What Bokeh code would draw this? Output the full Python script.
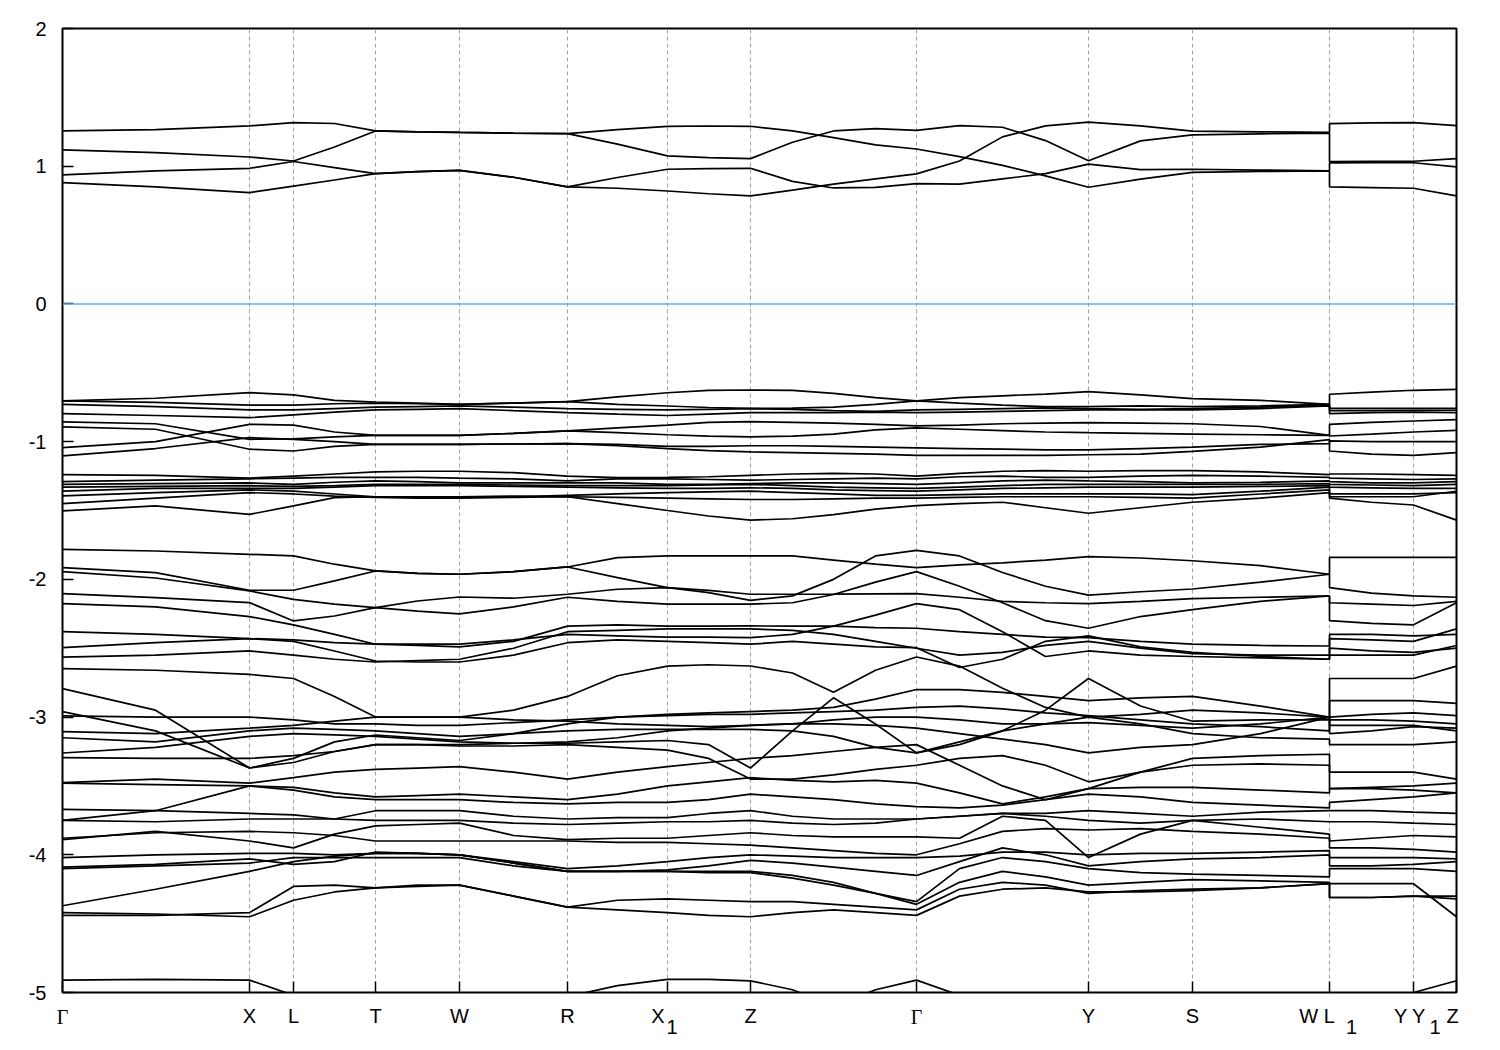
from bokeh.plotting import figure
from bokeh.models import FixedTicker, Span, Range1d, LinearAxis
from bokeh.embed import file_html
from bokeh.resources import INLINE

# high-symmetry points along the k-path (tick marks)
tick_pos = [0.0, 1.87, 2.31, 3.13, 3.97, 5.05, 6.05, 6.88, 8.54, 10.26, 11.30, 12.67, 13.51, 13.94]
tick_text = ["", "X", "L", "T", "W", "R", "", "Z", "", "Y", "S", "", "", ""]
# labels drawn apart from the tick marks
gamma_pos = [0.0, 8.54]
gamma_text = ["Γ", "Γ"]
shifted_pos = [5.955, 12.545, 13.475, 13.90]
shifted_text = ["X", "W L", "Y Y", "Z"]
sub_pos = [6.095, 12.89, 13.725]
sub_text = ["1", "1", "1"]
y_ticks = [-5, -4, -3, -2, -1, 0, 1, 2]

# k sampling of the bands (two entries at the path jumps W|L1 and Y|Y1)
k = [0.0, 0.93, 1.87, 2.31, 2.72, 3.13, 3.55, 3.97, 4.51, 5.05, 5.55, 6.05, 6.46, 6.88, 7.30,
     7.71, 8.13, 8.54, 8.97, 9.40, 9.83, 10.26, 10.78, 11.30, 11.98, 12.67, 12.67, 13.09, 13.51, 13.51, 13.94]

# conduction bands (eV)
cA = [1.256,1.265,1.293,1.317,1.31,1.256,1.25,1.245,1.24,1.237,1.265,1.29,1.292,1.29,1.256,1.208,1.155,1.125,1.07,1.006,0.93,0.847,0.906,0.955,0.962,0.966,0.85,0.845,0.84,0.84,0.784]
cB = [0.881,0.85,0.808,0.856,0.90,0.946,0.96,0.97,0.92,0.85,0.84,0.82,0.80,0.784,0.826,0.87,0.908,0.944,1.038,1.213,1.293,1.32,1.293,1.255,1.25,1.245,1.309,1.315,1.317,1.317,1.295]
cC = [1.118,1.099,1.067,1.038,1.14,1.256,1.25,1.245,1.24,1.237,1.16,1.075,1.062,1.055,1.174,1.256,1.273,1.26,1.295,1.283,1.186,1.04,1.184,1.227,1.235,1.24,1.033,1.035,1.036,1.036,1.055]
cD = [0.937,0.966,0.985,1.034,0.99,0.946,0.96,0.97,0.92,0.85,0.918,0.978,0.982,0.985,0.89,0.842,0.847,0.874,0.87,0.908,0.946,1.015,0.975,0.978,0.972,0.966,1.024,1.025,1.025,1.025,0.995]

# upper valence group
t1 = [-0.704,-0.685,-0.644,-0.661,-0.70,-0.712,-0.72,-0.729,-0.72,-0.709,-0.675,-0.645,-0.628,-0.625,-0.628,-0.65,-0.68,-0.704,-0.68,-0.667,-0.655,-0.637,-0.66,-0.688,-0.70,-0.729,-0.656,-0.64,-0.627,-0.627,-0.62]
t2 = [-0.704,-0.715,-0.735,-0.735,-0.725,-0.72,-0.725,-0.729,-0.72,-0.709,-0.73,-0.741,-0.752,-0.759,-0.757,-0.75,-0.73,-0.704,-0.72,-0.735,-0.745,-0.745,-0.74,-0.745,-0.74,-0.729,-0.758,-0.758,-0.758,-0.758,-0.758]
t3 = [-0.73,-0.745,-0.77,-0.77,-0.76,-0.75,-0.745,-0.74,-0.75,-0.76,-0.765,-0.77,-0.765,-0.76,-0.765,-0.775,-0.78,-0.77,-0.765,-0.76,-0.755,-0.76,-0.765,-0.76,-0.75,-0.735,-0.775,-0.775,-0.773,-0.773,-0.772]
t4 = [-0.797,-0.81,-0.826,-0.805,-0.785,-0.77,-0.765,-0.76,-0.775,-0.789,-0.80,-0.81,-0.80,-0.79,-0.79,-0.79,-0.785,-0.79,-0.785,-0.78,-0.775,-0.77,-0.77,-0.77,-0.76,-0.74,-0.797,-0.79,-0.785,-0.785,-0.79]
t5 = [-0.857,-0.87,-0.983,-0.98,-0.965,-0.955,-0.955,-0.955,-0.94,-0.922,-0.90,-0.88,-0.86,-0.855,-0.86,-0.865,-0.875,-0.886,-0.88,-0.87,-0.865,-0.862,-0.865,-0.87,-0.89,-0.955,-0.874,-0.86,-0.85,-0.85,-0.84]
t6 = [-0.893,-0.91,-1.055,-1.068,-1.035,-1.02,-1.02,-1.02,-1.017,-1.014,-1.03,-1.05,-1.065,-1.075,-1.08,-1.085,-1.09,-1.10,-1.10,-1.10,-1.10,-1.095,-1.09,-1.07,-1.04,-0.985,-1.068,-1.09,-1.10,-1.10,-1.08]
t7 = [-1.043,-1.0,-0.874,-0.88,-0.93,-0.955,-0.955,-0.955,-0.94,-0.922,-0.935,-0.95,-0.96,-0.965,-0.96,-0.945,-0.915,-0.90,-0.91,-0.92,-0.93,-0.935,-0.94,-0.945,-0.95,-0.955,-0.959,-0.945,-0.93,-0.93,-0.918]
t8 = [-1.104,-1.05,-0.971,-0.983,-1.0,-1.02,-1.02,-1.02,-1.017,-1.014,-1.02,-1.035,-1.035,-1.03,-1.03,-1.035,-1.04,-1.045,-1.05,-1.055,-1.06,-1.06,-1.05,-1.04,-1.02,-1.015,-0.995,-1.0,-1.0,-1.0,-1.0]

# second valence group
s1 = [-1.24,-1.245,-1.265,-1.25,-1.235,-1.22,-1.215,-1.215,-1.225,-1.25,-1.262,-1.26,-1.255,-1.245,-1.235,-1.23,-1.235,-1.25,-1.23,-1.215,-1.21,-1.215,-1.21,-1.21,-1.22,-1.24,-1.235,-1.235,-1.24,-1.24,-1.245]
s2 = [-1.29,-1.28,-1.27,-1.265,-1.26,-1.26,-1.26,-1.265,-1.27,-1.285,-1.27,-1.27,-1.275,-1.28,-1.275,-1.27,-1.265,-1.27,-1.255,-1.25,-1.26,-1.26,-1.25,-1.245,-1.25,-1.26,-1.265,-1.27,-1.275,-1.275,-1.27]
s3 = [-1.31,-1.305,-1.30,-1.31,-1.295,-1.285,-1.29,-1.30,-1.30,-1.30,-1.30,-1.31,-1.31,-1.305,-1.30,-1.30,-1.305,-1.31,-1.30,-1.285,-1.28,-1.285,-1.29,-1.30,-1.295,-1.285,-1.29,-1.30,-1.30,-1.30,-1.29]
s4 = [-1.33,-1.325,-1.32,-1.325,-1.32,-1.31,-1.31,-1.31,-1.315,-1.32,-1.32,-1.32,-1.315,-1.31,-1.32,-1.33,-1.335,-1.34,-1.33,-1.32,-1.31,-1.31,-1.31,-1.31,-1.31,-1.305,-1.31,-1.315,-1.32,-1.32,-1.31]
s5 = [-1.36,-1.34,-1.34,-1.34,-1.33,-1.32,-1.32,-1.32,-1.325,-1.33,-1.335,-1.34,-1.34,-1.335,-1.34,-1.35,-1.355,-1.36,-1.35,-1.34,-1.335,-1.33,-1.33,-1.33,-1.325,-1.32,-1.33,-1.335,-1.34,-1.34,-1.34]
s6 = [-1.394,-1.37,-1.35,-1.36,-1.38,-1.40,-1.405,-1.405,-1.40,-1.39,-1.38,-1.37,-1.365,-1.36,-1.37,-1.38,-1.39,-1.39,-1.385,-1.38,-1.38,-1.38,-1.38,-1.385,-1.36,-1.33,-1.38,-1.38,-1.38,-1.38,-1.37]
s7 = [-1.45,-1.41,-1.37,-1.38,-1.395,-1.405,-1.41,-1.41,-1.405,-1.40,-1.405,-1.41,-1.415,-1.42,-1.42,-1.415,-1.41,-1.41,-1.405,-1.40,-1.40,-1.40,-1.405,-1.41,-1.38,-1.35,-1.40,-1.40,-1.40,-1.40,-1.36]
s8 = [-1.503,-1.467,-1.528,-1.467,-1.407,-1.40,-1.40,-1.40,-1.395,-1.40,-1.45,-1.50,-1.54,-1.57,-1.56,-1.53,-1.49,-1.465,-1.45,-1.44,-1.48,-1.52,-1.48,-1.44,-1.41,-1.37,-1.41,-1.44,-1.46,-1.46,-1.57]

# third valence group
v1 = [-1.782,-1.794,-1.818,-1.83,-1.89,-1.939,-1.956,-1.963,-1.944,-1.91,-1.842,-1.83,-1.83,-1.83,-1.83,-1.86,-1.89,-1.915,-1.895,-1.88,-1.86,-1.835,-1.845,-1.865,-1.90,-1.963,-1.84,-1.84,-1.84,-1.84,-1.84]
v2 = [-1.915,-1.951,-2.079,-2.079,-2.011,-1.939,-1.956,-1.963,-1.944,-1.91,-1.987,-2.06,-2.096,-2.152,-2.12,-2.0,-1.83,-1.79,-1.83,-1.95,-2.05,-2.115,-2.09,-2.07,-2.02,-1.963,-2.06,-2.1,-2.12,-2.12,-2.13]
v3 = [-1.944,-1.99,-2.084,-2.145,-2.18,-2.205,-2.157,-2.128,-2.137,-2.108,-2.072,-2.06,-2.08,-2.108,-2.108,-2.107,-2.105,-2.103,-2.13,-2.16,-2.17,-2.176,-2.16,-2.14,-2.13,-2.12,-2.17,-2.18,-2.19,-2.19,-2.16]
v4 = [-2.103,-2.133,-2.169,-2.302,-2.266,-2.205,-2.23,-2.25,-2.20,-2.13,-2.16,-2.18,-2.18,-2.18,-2.17,-2.11,-2.02,-1.944,-2.05,-2.17,-2.30,-2.355,-2.27,-2.22,-2.16,-2.12,-2.30,-2.32,-2.33,-2.33,-2.17]
v5 = [-2.176,-2.2,-2.27,-2.33,-2.40,-2.471,-2.48,-2.49,-2.45,-2.34,-2.33,-2.34,-2.34,-2.338,-2.34,-2.34,-2.35,-2.355,-2.38,-2.40,-2.42,-2.423,-2.45,-2.47,-2.48,-2.484,-2.40,-2.40,-2.41,-2.41,-2.40]
v6 = [-2.38,-2.40,-2.43,-2.44,-2.46,-2.47,-2.47,-2.47,-2.44,-2.40,-2.41,-2.42,-2.42,-2.423,-2.40,-2.34,-2.26,-2.176,-2.22,-2.38,-2.56,-2.52,-2.55,-2.56,-2.57,-2.58,-2.50,-2.52,-2.53,-2.53,-2.50]
v7 = [-2.496,-2.46,-2.43,-2.45,-2.52,-2.593,-2.60,-2.60,-2.55,-2.46,-2.44,-2.45,-2.46,-2.471,-2.45,-2.47,-2.49,-2.496,-2.64,-2.58,-2.45,-2.41,-2.49,-2.53,-2.56,-2.58,-2.43,-2.44,-2.45,-2.45,-2.36]
v8 = [-2.564,-2.55,-2.52,-2.55,-2.58,-2.60,-2.59,-2.58,-2.50,-2.38,-2.37,-2.36,-2.36,-2.36,-2.37,-2.40,-2.45,-2.50,-2.55,-2.53,-2.48,-2.45,-2.50,-2.54,-2.55,-2.55,-2.55,-2.55,-2.55,-2.55,-2.48]
v9 = [-2.648,-2.66,-2.69,-2.72,-2.85,-3.0,-3.0,-3.0,-2.95,-2.85,-2.70,-2.63,-2.62,-2.629,-2.68,-2.82,-2.66,-2.564,-2.63,-2.79,-2.93,-3.0,-2.98,-2.95,-2.97,-3.0,-2.72,-2.72,-2.72,-2.72,-2.63]

# fourth valence group
w1 = [-2.793,-2.95,-3.37,-3.30,-3.18,-3.13,-3.15,-3.17,-3.12,-3.05,-3.0,-2.98,-2.97,-2.96,-2.95,-2.93,-2.87,-2.80,-2.80,-2.82,-2.85,-2.88,-2.86,-2.85,-2.92,-3.0,-2.88,-2.88,-2.88,-2.88,-2.90]
w2 = [-2.96,-3.10,-3.37,-3.33,-3.25,-3.20,-3.20,-3.20,-3.19,-3.18,-3.15,-3.10,-3.08,-3.06,-3.05,-3.02,-3.0,-3.0,-3.02,-3.05,-3.05,-3.04,-3.06,-3.08,-3.05,-3.0,-3.02,-3.02,-3.03,-3.03,-3.05]
w3 = [-2.992,-3.0,-3.0,-3.02,-3.05,-3.05,-3.06,-3.06,-3.04,-3.02,-3.0,-2.99,-2.98,-2.98,-2.97,-2.96,-2.95,-2.93,-2.92,-2.94,-2.97,-2.99,-3.02,-3.05,-3.07,-3.10,-3.00,-2.98,-2.97,-2.97,-2.99]
w4 = [-3.106,-3.12,-3.08,-3.06,-3.03,-3.0,-3.0,-3.0,-3.02,-3.03,-3.05,-3.06,-3.07,-3.06,-3.05,-3.05,-3.06,-3.08,-3.12,-3.16,-3.2,-3.26,-3.22,-3.20,-3.12,-3.0,-3.12,-3.10,-3.07,-3.07,-3.08]
w5 = [-3.15,-3.18,-3.10,-3.08,-3.09,-3.10,-3.12,-3.14,-3.12,-3.10,-3.09,-3.09,-3.09,-3.09,-3.10,-3.14,-3.22,-3.26,-3.18,-3.10,-2.95,-2.72,-2.92,-3.03,-3.02,-3.02,-3.06,-3.06,-3.06,-3.06,-3.10]
w6 = [-3.261,-3.22,-3.14,-3.12,-3.13,-3.14,-3.16,-3.18,-3.19,-3.19,-3.18,-3.17,-3.20,-3.37,-3.10,-2.86,-3.05,-3.26,-3.20,-3.10,-3.05,-3.0,-3.05,-3.12,-3.15,-3.16,-3.20,-3.20,-3.20,-3.20,-3.18]
w7 = [-3.295,-3.30,-3.30,-3.28,-3.25,-3.20,-3.20,-3.21,-3.21,-3.20,-3.22,-3.24,-3.30,-3.45,-3.45,-3.42,-3.38,-3.35,-3.30,-3.28,-3.35,-3.47,-3.40,-3.35,-3.34,-3.35,-3.40,-3.40,-3.40,-3.40,-3.45]
w8 = [-3.476,-3.45,-3.48,-3.44,-3.40,-3.38,-3.37,-3.36,-3.40,-3.45,-3.40,-3.36,-3.33,-3.30,-3.28,-3.25,-3.22,-3.20,-3.35,-3.50,-3.60,-3.52,-3.40,-3.30,-3.28,-3.27,-3.52,-3.52,-3.53,-3.53,-3.55]

# fifth valence group
u1 = [-3.48,-3.49,-3.50,-3.51,-3.55,-3.58,-3.57,-3.56,-3.58,-3.60,-3.56,-3.50,-3.47,-3.44,-3.46,-3.47,-3.46,-3.48,-3.55,-3.63,-3.58,-3.52,-3.51,-3.51,-3.53,-3.55,-3.52,-3.51,-3.50,-3.50,-3.48]
u2 = [-3.75,-3.68,-3.50,-3.53,-3.58,-3.60,-3.60,-3.60,-3.62,-3.63,-3.62,-3.62,-3.60,-3.56,-3.58,-3.60,-3.63,-3.65,-3.66,-3.64,-3.60,-3.56,-3.58,-3.62,-3.64,-3.66,-3.62,-3.60,-3.58,-3.58,-3.55]
u3 = [-3.67,-3.68,-3.70,-3.71,-3.74,-3.68,-3.68,-3.68,-3.72,-3.74,-3.73,-3.73,-3.70,-3.68,-3.72,-3.74,-3.74,-3.74,-3.72,-3.70,-3.70,-3.68,-3.70,-3.72,-3.69,-3.68,-3.68,-3.68,-3.69,-3.69,-3.70]
u4 = [-3.75,-3.76,-3.74,-3.74,-3.74,-3.75,-3.75,-3.75,-3.77,-3.78,-3.77,-3.76,-3.76,-3.75,-3.77,-3.78,-3.77,-3.74,-3.72,-3.70,-3.72,-3.75,-3.77,-3.75,-3.74,-3.76,-3.76,-3.76,-3.77,-3.77,-3.78]
u5 = [-3.89,-3.83,-3.90,-3.95,-3.85,-3.79,-3.78,-3.77,-3.86,-3.89,-3.88,-3.88,-3.86,-3.84,-3.86,-3.87,-3.87,-3.87,-3.88,-3.72,-3.75,-4.02,-3.85,-3.75,-3.80,-3.85,-3.90,-3.88,-3.86,-3.86,-3.87]
u6 = [-3.88,-3.84,-3.83,-3.84,-3.86,-3.90,-3.90,-3.90,-3.90,-3.90,-3.91,-3.91,-3.92,-3.93,-3.95,-3.97,-3.99,-4.0,-3.92,-3.83,-3.81,-3.82,-3.81,-3.83,-3.85,-3.88,-3.95,-3.95,-3.96,-3.96,-3.98]
u7 = [-4.02,-4.00,-3.99,-3.99,-4.00,-3.99,-3.99,-4.00,-4.05,-4.10,-4.08,-4.05,-4.02,-4.0,-4.01,-4.02,-4.02,-4.02,-4.01,-3.98,-3.98,-4.0,-3.99,-3.99,-3.98,-3.97,-4.02,-4.02,-4.02,-4.02,-4.03]
u8 = [-4.09,-4.07,-4.03,-4.07,-4.05,-3.98,-3.99,-4.0,-4.06,-4.12,-4.12,-4.11,-4.08,-4.04,-4.06,-4.09,-4.12,-4.15,-4.05,-3.95,-4.0,-4.08,-4.05,-4.03,-4.02,-4.00,-4.08,-4.08,-4.07,-4.07,-4.05]
u9 = [-4.10,-4.08,-4.06,-4.02,-4.02,-4.02,-4.02,-4.02,-4.08,-4.12,-4.12,-4.12,-4.13,-4.13,-4.17,-4.22,-4.28,-4.34,-4.1,-4.02,-4.05,-4.10,-4.13,-4.14,-4.15,-4.16,-4.10,-4.10,-4.10,-4.10,-4.12]
u10 = [-4.37,-4.25,-4.12,-4.05,-4.01,-3.99,-3.99,-4.0,-4.06,-4.12,-4.12,-4.12,-4.12,-4.12,-4.15,-4.20,-4.28,-4.36,-4.20,-4.12,-4.16,-4.22,-4.20,-4.18,-4.19,-4.20,-4.21,-4.21,-4.21,-4.21,-4.45]
u11 = [-4.44,-4.44,-4.42,-4.23,-4.22,-4.24,-4.22,-4.22,-4.30,-4.38,-4.33,-4.32,-4.33,-4.34,-4.34,-4.36,-4.38,-4.40,-4.25,-4.20,-4.22,-4.28,-4.26,-4.25,-4.24,-4.21,-4.31,-4.31,-4.30,-4.30,-4.30]
u12 = [-4.42,-4.43,-4.45,-4.33,-4.27,-4.24,-4.23,-4.22,-4.30,-4.38,-4.40,-4.42,-4.44,-4.45,-4.42,-4.40,-4.42,-4.44,-4.30,-4.25,-4.24,-4.27,-4.27,-4.26,-4.24,-4.21,-4.31,-4.31,-4.30,-4.30,-4.32]

# lowest visible band (dips below the window)
b1 = [-4.91,-4.905,-4.91,-5.02,-5.15,-5.2,-5.2,-5.2,-5.15,-5.03,-4.95,-4.905,-4.905,-4.915,-4.98,-5.1,-4.98,-4.91,-5.02,-5.1,-5.2,-5.2,-5.2,-5.2,-5.2,-5.2,-5.2,-5.2,-5.0,-5.0,-4.915]

bands = [cA, cB, cC, cD, t1, t2, t3, t4, t5, t6, t7, t8, s1, s2, s3, s4, s5, s6, s7, s8,
         v1, v2, v3, v4, v5, v6, v7, v8, v9, w1, w2, w3, w4, w5, w6, w7, w8,
         u1, u2, u3, u4, u5, u6, u7, u8, u9, u10, u11, u12, b1]

FONT = "Liberation Sans"
FS = "20px"

p = figure(width=1484, height=1044, output_backend="svg", toolbar_location=None,
           x_range=Range1d(tick_pos[0], tick_pos[-1]), y_range=Range1d(-5, 2),
           min_border_left=62, min_border_right=28, min_border_top=28, min_border_bottom=52)
p.background_fill_color = "white"
p.border_fill_color = "white"
p.outline_line_color = "black"
p.outline_line_width = 2

# y axis
p.yaxis.ticker = FixedTicker(ticks=y_ticks)
p.yaxis.axis_line_color = None
p.yaxis.major_tick_in = 11
p.yaxis.major_tick_out = 0
p.yaxis.major_tick_line_color = "black"
p.yaxis.major_tick_line_width = 1.5
p.yaxis.minor_tick_line_color = None
p.yaxis.major_label_standoff = 16
p.yaxis.major_label_text_font = FONT
p.yaxis.major_label_text_font_size = FS
p.yaxis.major_label_text_color = "black"
p.yaxis.major_label_overrides = {t: str(t) for t in y_ticks}

# x axis with the tick marks (and the labels that sit centred on them)
p.xaxis.ticker = FixedTicker(ticks=tick_pos)
p.xaxis.axis_line_color = None
p.xaxis.major_tick_in = 11
p.xaxis.major_tick_out = 0
p.xaxis.major_tick_line_color = "black"
p.xaxis.major_tick_line_width = 1.5
p.xaxis.minor_tick_line_color = None
p.xaxis.major_label_standoff = 12
p.xaxis.major_label_text_font = FONT
p.xaxis.major_label_text_font_size = FS
p.xaxis.major_label_text_color = "black"
p.xaxis.major_label_overrides = {pos: lab for pos, lab in zip(tick_pos, tick_text)}


def label_axis(positions, texts, font, standoff):
    ax = LinearAxis(ticker=FixedTicker(ticks=positions),
                    major_label_overrides={pp: tt for pp, tt in zip(positions, texts)},
                    axis_line_color=None, major_tick_line_color=None, minor_tick_line_color=None,
                    major_tick_in=0, major_tick_out=0,
                    major_label_standoff=standoff, major_label_text_font=font,
                    major_label_text_font_size=FS, major_label_text_color="black")
    p.add_layout(ax, "below")


label_axis(gamma_pos, gamma_text, "Liberation Serif", -24)
label_axis(shifted_pos, shifted_text, FONT, -26)
label_axis(sub_pos, sub_text, FONT, -11)

p.xgrid.ticker = FixedTicker(ticks=tick_pos[1:-1])
p.xgrid.grid_line_color = "#a0a0a0"
p.xgrid.grid_line_dash = "4 3"
p.xgrid.grid_line_width = 1
p.ygrid.visible = False

# Fermi level
p.add_layout(Span(location=0, dimension="width", line_color="#56b4e9", line_width=1.5))

for band in bands:
    p.line(k, band, line_color="black", line_width=1.7)

open("out.html", "w").write(file_html(p, INLINE))
